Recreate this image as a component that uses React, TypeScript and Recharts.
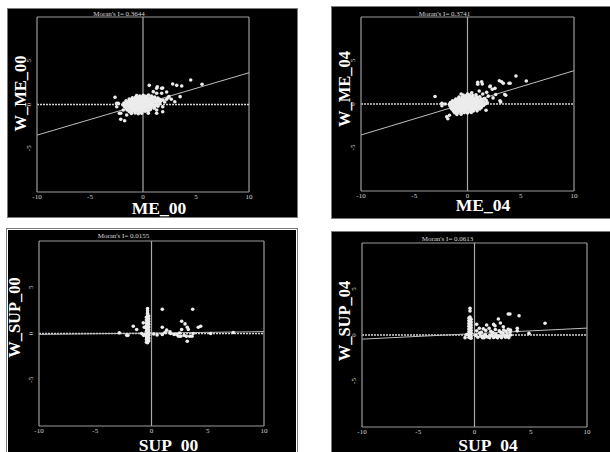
import React from 'react';
import { ScatterChart, Scatter, XAxis, YAxis, ReferenceLine, Label } from 'recharts';

// ---------- data ----------
const xTicks = [-10, -5, 0, 5, 10];
const yTicks = [-5, 0, 5];
const axisDomain: [number, number] = [-10, 10];

const titles = ["Moran's I= 0.3644", "Moran's I= 0.3741", "Moran's I= 0.0155", "Moran's I= 0.0613"];
const xNames = ['ME_00', 'ME_04', 'SUP_00', 'SUP_04'];
const yNames = ['W_ME_00', 'W_ME_04', 'W_SUP_00', 'W_SUP_04'];
// fitted regression line read at x = -10 and x = 10
const fitAtLeft = [-3.5, -3.56, -0.1, -0.45];
const fitAtRight = [3.63, 3.83, 0.2, 0.75];

const me00: [number, number][] = [
  [0.59, 2.19], [1.35, 2.03], [1.86, 1.89], [2.8, 2.34], [3.18, 2.19], [3.65, 2.11], [4.5, 2.8], [5.57, 2.31],
  [-2.64, 0.82], [3.0, 0.32], [3.5, 0.9], [2.23, 1.43], [2.45, 0.9], [2.05, 0.29], [1.86, -0.25], [1.86, -0.82],
  [1.29, -0.63], [0.97, 1.47], [1.29, 1.28], [1.76, 1.28], [2.23, 0.6], [2.67, 0.6], [-2.48, 0.13], [-2.48, -0.25],
  [-2.23, -1.0], [-2.1, -1.69], [-1.73, -1.85], [-1.86, -0.63], [-1.54, -1.2], [-0.13, -1.0], [0.5, -1.0], [1.29, -1.0],
  [-2.33, 0.13], [-2.1, -1.0], [1.29, 1.85], [1.76, 1.85], [1.9, 0.51], [2.39, 0.82],
  [-0.6, 1.02], [-0.3, 0.97], [0.02, 1.05], [0.25, 0.95], [0.52, 1.08], [0.8, 0.98],
  [-1.0, 0.78], [-0.7, 0.83], [-0.45, 0.76], [-0.2, 0.82], [0.05, 0.79], [0.3, 0.85], [0.55, 0.77], [0.85, 0.81], [1.1, 0.86], [1.4, 0.75],
  [-1.3, 0.62], [-1.05, 0.57], [-0.8, 0.63], [-0.55, 0.58], [-0.3, 0.64], [-0.1, 0.56], [0.15, 0.61], [0.4, 0.59], [0.65, 0.66], [0.9, 0.57], [1.2, 0.62], [1.55, 0.6],
  [-1.6, 0.42], [-1.35, 0.37], [-1.1, 0.43], [-0.85, 0.38], [-0.6, 0.41], [-0.4, 0.36], [-0.15, 0.44], [0.1, 0.39], [0.35, 0.42], [0.6, 0.37], [0.9, 0.43], [1.15, 0.38], [1.45, 0.41], [1.7, 0.45],
  [-1.8, 0.18], [-1.5, 0.22], [-1.25, 0.17], [-1.0, 0.21], [-0.75, 0.19], [-0.5, 0.23], [-0.25, 0.16], [0.0, 0.2], [0.2, 0.24], [0.45, 0.18], [0.7, 0.22], [0.95, 0.17], [1.25, 0.21], [1.6, 0.19],
  [-1.9, -0.02], [-1.6, 0.03], [-1.35, -0.04], [-1.1, 0.01], [-0.85, -0.03], [-0.6, 0.04], [-0.35, -0.01], [-0.1, 0.02], [0.15, -0.03], [0.4, 0.01], [0.65, -0.02], [0.9, 0.03], [1.2, -0.04], [1.5, 0.02],
  [-1.75, -0.22], [-1.45, -0.18], [-1.2, -0.21], [-0.95, -0.17], [-0.7, -0.23], [-0.45, -0.19], [-0.2, -0.2], [0.05, -0.24], [0.3, -0.18], [0.55, -0.21], [0.85, -0.17], [1.1, -0.23], [1.4, -0.19],
  [-1.6, -0.41], [-1.3, -0.38], [-1.05, -0.43], [-0.8, -0.37], [-0.55, -0.42], [-0.3, -0.39], [-0.05, -0.44], [0.2, -0.36], [0.45, -0.41], [0.75, -0.38], [1.05, -0.43],
  [-1.5, -0.62], [-1.2, -0.57], [-0.9, -0.63], [-0.65, -0.58], [-0.4, -0.61], [-0.15, -0.64], [0.1, -0.59], [0.4, -0.62], [0.7, -0.57],
  [-1.3, -0.81], [-1.0, -0.78], [-0.7, -0.84], [-0.4, -0.79], [-0.1, -0.83], [0.2, -0.77], [0.5, -0.82],
  [-1.1, -1.02], [-0.75, -0.98], [-0.45, -1.05],
];

const me04: [number, number][] = [
  [-3.05, 0.86], [0.96, 2.5], [0.96, 2.27], [1.39, 2.3], [2.14, 2.07], [2.33, 1.69], [2.99, 2.68], [3.36, 2.38],
  [3.9, 2.38], [4.55, 3.22], [5.52, 2.64], [3.59, 1.0], [3.12, 0.23], [1.74, -0.72], [1.8, 1.34], [1.43, 1.15],
  [-2.1, 0.0], [-2.4, -0.2], [-1.7, -1.3], [-1.85, -1.7], [0.4, 1.3], [0.0, 1.15], [-0.6, 1.15], [1.1, 1.5],
  [2.65, 1.1], [1.95, 0.9], [2.4, 0.7], [1.33, 2.56], [3.2, 2.56], [4.0, 2.38], [2.1, 1.99], [2.58, 1.8],
  [3.5, 1.1], [3.05, 0.38], [-2.4, 0.08], [-1.95, -1.46],
  [-0.4, 1.02], [-0.1, 0.96], [0.2, 1.04], [0.5, 0.98], [0.8, 1.05],
  [-0.8, 0.81], [-0.5, 0.76], [-0.25, 0.83], [0.0, 0.78], [0.3, 0.82], [0.55, 0.75], [0.85, 0.8], [1.15, 0.84],
  [-1.1, 0.58], [-0.85, 0.62], [-0.6, 0.56], [-0.35, 0.61], [-0.1, 0.57], [0.15, 0.63], [0.4, 0.59], [0.65, 0.55], [0.95, 0.6], [1.3, 0.57], [1.6, 0.62],
  [-1.4, 0.37], [-1.15, 0.41], [-0.9, 0.36], [-0.65, 0.4], [-0.4, 0.38], [-0.15, 0.42], [0.1, 0.35], [0.35, 0.39], [0.6, 0.41], [0.85, 0.36], [1.1, 0.4], [1.4, 0.38], [1.75, 0.43],
  [-1.6, 0.17], [-1.35, 0.21], [-1.1, 0.16], [-0.85, 0.2], [-0.6, 0.18], [-0.35, 0.22], [-0.1, 0.15], [0.15, 0.19], [0.4, 0.23], [0.65, 0.17], [0.9, 0.21], [1.2, 0.16], [1.5, 0.2], [1.85, 0.18],
  [-1.7, -0.03], [-1.45, 0.02], [-1.2, -0.01], [-0.95, 0.03], [-0.7, -0.02], [-0.45, 0.01], [-0.2, -0.04], [0.05, 0.02], [0.3, -0.01], [0.55, 0.03], [0.8, -0.03], [1.05, 0.01], [1.35, -0.02], [1.7, 0.02],
  [-1.65, -0.21], [-1.4, -0.18], [-1.15, -0.23], [-0.9, -0.19], [-0.65, -0.22], [-0.4, -0.17], [-0.15, -0.2], [0.1, -0.24], [0.35, -0.18], [0.6, -0.21], [0.85, -0.19], [1.15, -0.23], [1.5, -0.17],
  [-1.55, -0.42], [-1.3, -0.38], [-1.05, -0.41], [-0.8, -0.37], [-0.55, -0.43], [-0.3, -0.39], [-0.05, -0.4], [0.2, -0.36], [0.45, -0.42], [0.7, -0.38], [1.0, -0.41], [1.3, -0.39],
  [-1.45, -0.61], [-1.2, -0.58], [-0.95, -0.63], [-0.7, -0.57], [-0.45, -0.6], [-0.2, -0.64], [0.05, -0.59], [0.3, -0.62], [0.55, -0.58], [0.85, -0.61], [1.15, -0.57],
  [-1.3, -0.82], [-1.05, -0.78], [-0.8, -0.83], [-0.55, -0.79], [-0.3, -0.81], [-0.05, -0.77], [0.25, -0.84], [0.55, -0.8], [0.9, -0.79],
  [-1.2, -1.01], [-0.9, -0.97], [-0.6, -1.03], [-0.3, -0.99], [0.0, -1.04], [0.35, -0.98],
  [-1.0, -1.2], [-0.6, -1.18],
];

const sup00: [number, number][] = [
  [-0.35, 2.7], [-0.35, 2.45], [-0.35, 2.2], [-0.35, 2.0], [-0.35, 1.85], [-0.35, 1.7], [-0.35, 1.55], [-0.35, 1.4],
  [-0.35, 1.25], [-0.35, 1.1], [-0.35, 0.95], [-0.35, 0.8], [-0.35, 0.65], [-0.35, 0.5], [-0.35, 0.35], [-0.35, 0.2],
  [-0.35, 0.05], [-0.35, -0.1], [-0.35, -0.25], [-0.35, -0.4], [-0.35, -0.55], [-0.35, -0.7], [-0.35, -0.85], [-0.35, -1.0],
  [-0.25, 1.9], [-0.25, 1.6], [-0.25, 1.3], [-0.25, 1.0], [-0.25, 0.7], [-0.25, 0.4], [-0.25, 0.1], [-0.25, -0.2], [-0.25, -0.5], [-0.25, -0.8],
  [-0.45, 1.75], [-0.45, 1.45], [-0.45, 1.15], [-0.45, 0.85], [-0.45, 0.55], [-0.45, 0.25], [-0.45, -0.05], [-0.45, -0.35], [-0.45, -0.65], [-0.45, -0.95],
  [0.96, 2.62], [3.66, 2.62], [-1.62, 0.79], [-1.32, 0.43], [-2.2, -0.18], [-0.73, 1.15], [-0.64, 0.68], [-0.87, 0.0],
  [0.96, 0.68], [1.35, 0.36], [0.96, -0.1], [1.64, 0.18], [1.7, 0.0], [2.0, -0.1], [2.68, 1.32], [2.98, 1.04],
  [3.18, 0.68], [3.27, 0.43], [2.68, 0.43], [2.24, -0.1], [2.4, -0.3], [2.6, -0.3], [2.9, -0.2], [3.1, -0.3],
  [3.4, -0.3], [3.18, -0.83], [3.6, -0.3], [4.16, 0.68], [4.37, 0.79], [5.26, 0.0], [0.5, -0.15], [0.2, -0.05],
  [3.7, 0.0], [-2.86, 0.07], [7.27, 0.1], [-2.1, -0.2], [-0.7, -0.2], [-0.6, -0.1], [1.2, 0.1], [2.5, 0.05],
];

const sup04: [number, number][] = [
  [-0.4, 2.9], [-0.4, 2.62], [-0.4, 1.95], [-0.4, 1.8], [-0.4, 1.65], [-0.4, 1.5], [-0.4, 1.35], [-0.4, 1.2],
  [-0.4, 1.05], [-0.4, 0.9], [-0.4, 0.75], [-0.4, 0.6], [-0.4, 0.45], [-0.4, 0.3], [-0.4, 0.15], [-0.4, 0.0],
  [-0.4, -0.15], [-0.4, -0.3],
  [-0.3, 1.7], [-0.3, 1.4], [-0.3, 1.1], [-0.3, 0.8], [-0.3, 0.5], [-0.3, 0.2], [-0.3, -0.1], [-0.3, -0.35],
  [-0.5, 1.85], [-0.5, 1.55], [-0.5, 1.25], [-0.5, 0.95], [-0.5, 0.65], [-0.5, 0.35], [-0.5, 0.05], [-0.5, -0.25],
  [-0.84, -0.29], [-0.7, 0.05], [0.19, 1.16], [0.43, 0.73], [0.78, 0.67], [1.08, 1.09], [1.3, 0.73], [1.82, 1.01],
  [2.12, 1.74], [2.56, 0.9], [3.0, 2.28], [3.15, 2.28], [3.96, 2.1], [6.27, 1.27], [4.84, 0.18], [3.8, 0.73],
  [3.8, 0.45], [3.2, 0.55], [1.6, 0.2], [0.78, -0.18], [1.08, -0.18], [1.4, 0.0], [1.8, -0.18], [2.1, -0.1],
  [2.4, -0.18], [2.7, -0.1], [3.0, -0.18], [2.5, 0.2], [2.8, 0.4], [0.45, 0.2], [2.3, 1.3], [1.7, 1.15],
  [0.3, -0.25], [0.55, -0.1], [0.7, -0.28], [0.95, 0.05], [1.2, -0.22], [1.35, -0.3], [1.55, -0.05], [1.7, -0.26],
  [1.9, 0.08], [2.05, -0.3], [2.25, -0.12], [2.4, -0.28], [2.6, 0.02], [2.75, -0.24], [2.9, 0.1], [3.05, -0.28],
  [3.15, 0.3], [0.2, 0.45], [0.6, 0.3], [1.0, 0.5], [1.45, 0.4], [1.85, 0.6], [2.2, 0.45], [2.6, 0.55],
  [3.0, 0.62], [3.2, 0.0], [0.1, -0.05], [0.85, -0.3], [1.95, -0.18], [2.85, -0.15], [2.35, 0.28], [1.65, 0.25],
];

const seriesList = [me00, me04, sup00, sup04];

// ---------- layout (positions/styles only) ----------
const layouts = [
  { left: 8, top: 9, width: 289, height: 208, yAxisW: 29, xAxisH: 25, mTop: 8, mRight: 48,
    yLab: { dx: -17, dy: -11 }, xLab: { dx: 16, dy: 21.5 }, title: { dx: -24, dy: -1.5 }, outlineOffset: 0 },
  { left: 332, top: 7, width: 278, height: 211, yAxisW: 29, xAxisH: 27, mTop: 10, mRight: 36,
    yLab: { dx: -16.5, dy: -15 }, xLab: { dx: 15.5, dy: 20 }, title: { dx: -23, dy: -1.5 }, outlineOffset: 0 },
  { left: 8, top: 230, width: 288, height: 222, yAxisW: 31, xAxisH: 26, mTop: 11, mRight: 32,
    yLab: { dx: -24.5, dy: -16 }, xLab: { dx: 17, dy: 25 }, title: { dx: -28, dy: -3.5 }, outlineOffset: 1 },
  { left: 332, top: 232, width: 278, height: 220, yAxisW: 30, xAxisH: 25, mTop: 11, mRight: 23,
    yLab: { dx: -17.5, dy: -14 }, xLab: { dx: 13.5, dy: 23.5 }, title: { dx: -27, dy: -2.5 }, outlineOffset: 0 },
];

const SERIF = '"Liberation Serif", "Times New Roman", "DejaVu Serif", serif';
const FRAME = '#9c9c9c';
const TICK_COLOR = '#d8d8d8';

const XTick = (props: any) => {
  const { x, y, payload } = props;
  return (
    <text x={x} y={y + 5} textAnchor="middle" dominantBaseline="central" fontSize={7}
      fontFamily={SERIF} fill={TICK_COLOR}>{payload.value}</text>
  );
};

const YTick = (props: any) => {
  const { x, y, payload } = props;
  const tx = x - 8;
  return (
    <text x={tx} y={y} transform={`rotate(-90, ${tx}, ${y})`} textAnchor="middle" dominantBaseline="central"
      fontSize={7} fontFamily={SERIF} fill={TICK_COLOR}>{payload.value}</text>
  );
};

const Dot = (props: any) => {
  const { cx, cy } = props;
  if (cx == null || cy == null) return null;
  return <circle cx={cx} cy={cy} r={1.8} fill="#ececec" />;
};

function Panel({ idx }: { idx: number }) {
  const L = layouts[idx];
  const data = seriesList[idx].map(([x, y]) => ({ x, y }));
  return (
    <div style={{
      position: 'absolute', left: L.left, top: L.top, width: L.width, height: L.height,
      background: '#000', outline: '1px solid #7a7a7a', outlineOffset: L.outlineOffset,
    }}>
      <ScatterChart width={L.width} height={L.height}
        margin={{ top: L.mTop, right: L.mRight, bottom: 0, left: 0 }}>
        <XAxis type="number" dataKey="x" domain={axisDomain} ticks={xTicks} allowDataOverflow
          height={L.xAxisH} tickSize={0} tickMargin={0} tickLine={false}
          axisLine={{ stroke: FRAME, strokeWidth: 1.2 }} tick={<XTick />} interval={0}>
          <Label content={(p: any) => {
            const vb = p.viewBox || {};
            return (
              <text x={vb.x + vb.width / 2 + L.xLab.dx} y={vb.y + L.xLab.dy} textAnchor="middle"
                fontSize={17.5} fontWeight="bold" fontFamily={SERIF} fill="#ffffff">{xNames[idx]}</text>
            );
          }} />
        </XAxis>
        <YAxis type="number" dataKey="y" domain={axisDomain} ticks={yTicks} allowDataOverflow
          width={L.yAxisW} tickSize={0} tickMargin={0} tickLine={false}
          axisLine={{ stroke: FRAME, strokeWidth: 1.2 }} tick={<YTick />} interval={0}>
          <Label content={(p: any) => {
            const vb = p.viewBox || {};
            const cx = vb.x + vb.width + L.yLab.dx;
            const cy = vb.y + vb.height / 2 + L.yLab.dy;
            return (
              <text x={cx} y={cy} transform={`rotate(-90, ${cx}, ${cy})`} textAnchor="middle"
                dominantBaseline="central" fontSize={16.5} fontWeight="bold" fontFamily={SERIF}
                fill="#ffffff">{yNames[idx]}</text>
            );
          }} />
        </YAxis>
        <ReferenceLine x={10} stroke={FRAME} strokeWidth={1.2} />
        <ReferenceLine y={10} stroke={FRAME} strokeWidth={1.2}
          label={(p: any) => {
            const vb = p.viewBox || {};
            return (
              <text x={vb.x + vb.width / 2 + L.title.dx} y={vb.y + L.title.dy} textAnchor="middle"
                fontSize={7} fontFamily={SERIF} fill={TICK_COLOR}>{titles[idx]}</text>
            );
          }} />
        <ReferenceLine x={0} stroke="#a8a8a8" strokeWidth={1.2} />
        <ReferenceLine y={0} stroke="#d4d4d4" strokeWidth={1.3} strokeDasharray="2 1" />
        <ReferenceLine segment={[{ x: -10, y: fitAtLeft[idx] }, { x: 10, y: fitAtRight[idx] }]}
          stroke="#bdbdbd" strokeWidth={1} ifOverflow="visible" />
        <Scatter data={data} shape={<Dot />} isAnimationActive={false} />
      </ScatterChart>
    </div>
  );
}

export default function App() {
  return (
    <div style={{ position: 'absolute', left: 0, top: 0, width: 610, height: 452, background: '#fff', overflow: 'hidden' }}>
      {[0, 1, 2, 3].map((i) => <Panel key={i} idx={i} />)}
    </div>
  );
}
